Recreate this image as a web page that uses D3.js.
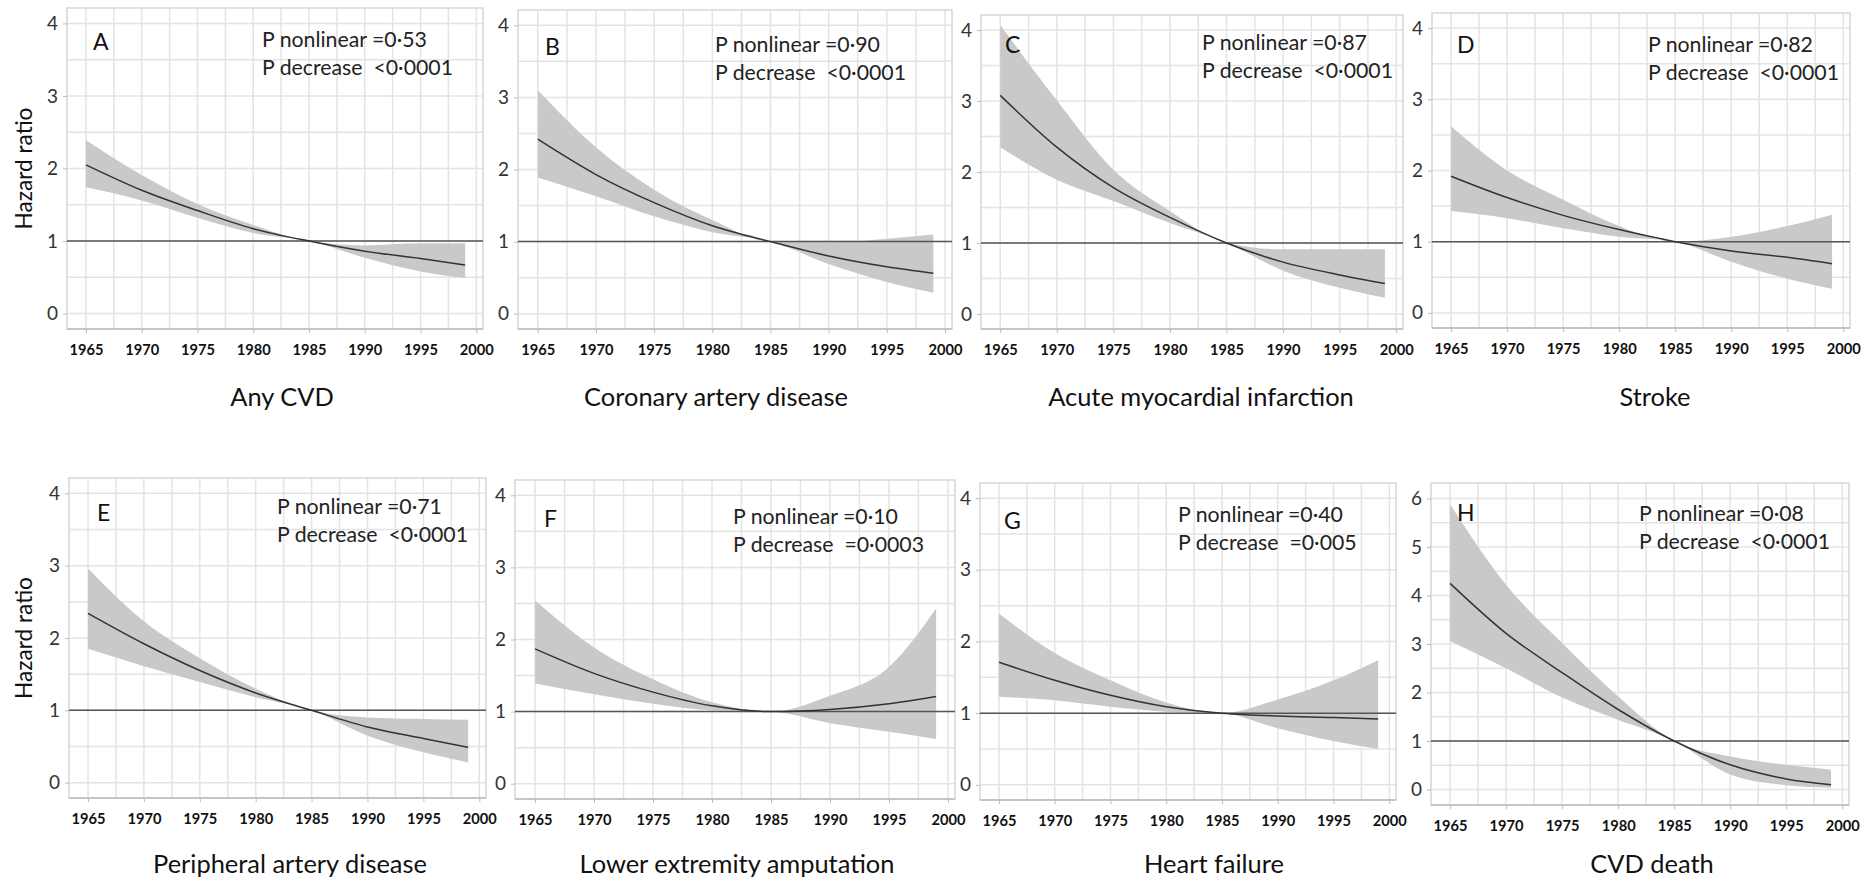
<!DOCTYPE html>
<html>
<head>
<meta charset="utf-8">
<script src="https://cdn.jsdelivr.net/npm/d3@7"></script>
<style>
  body { margin: 0; background: #fff; }
  text { font-family: Lato, "Open Sans", sans-serif; }
</style>
</head>
<body>
<svg id="chart" width="1872" height="880"></svg>
<script>
// birth year points
const years = [1965, 1970, 1975, 1980, 1985, 1990, 1995, 1999];
const xTickLabels = [1965, 1970, 1975, 1980, 1985, 1990, 1995, 2000];

const letters = ["A", "B", "C", "D", "E", "F", "G", "H"];
const titles = ["Any CVD", "Coronary artery disease", "Acute myocardial infarction", "Stroke",
  "Peripheral artery disease", "Lower extremity amputation", "Heart failure", "CVD death"];
const pNonlinear = ["=0·53", "=0·90", "=0·87", "=0·82", "=0·71", "=0·10", "=0·40", "=0·08"];
const pDecrease = ["<0·0001", "<0·0001", "<0·0001", "<0·0001", "<0·0001", "=0·0003", "=0·005", "<0·0001"];
const yMaxes = [4, 4, 4, 4, 4, 4, 4, 6];

// hazard ratio: fit, lower and upper CI
const fitA = [2.05, 1.70, 1.42, 1.17, 1.00, 0.86, 0.76, 0.67];
const lowA = [1.74, 1.56, 1.32, 1.11, 1.00, 0.77, 0.58, 0.49];
const upA  = [2.39, 1.91, 1.51, 1.22, 1.00, 0.94, 0.97, 0.97];

const fitB = [2.42, 1.93, 1.54, 1.22, 1.00, 0.80, 0.65, 0.56];
const lowB = [1.89, 1.63, 1.35, 1.13, 1.00, 0.69, 0.44, 0.29];
const upB  = [3.10, 2.31, 1.72, 1.30, 1.00, 0.99, 1.04, 1.10];

const fitC = [3.08, 2.35, 1.78, 1.36, 1.00, 0.73, 0.55, 0.43];
const lowC = [2.35, 1.89, 1.59, 1.28, 1.00, 0.61, 0.37, 0.23];
const upC  = [4.07, 3.01, 2.03, 1.45, 1.00, 0.91, 0.91, 0.91];

const fitD = [1.92, 1.62, 1.37, 1.17, 1.00, 0.87, 0.78, 0.69];
const lowD = [1.43, 1.33, 1.19, 1.07, 1.00, 0.72, 0.48, 0.34];
const upD  = [2.62, 2.00, 1.59, 1.22, 1.00, 1.07, 1.22, 1.38];

const fitE = [2.34, 1.92, 1.55, 1.24, 1.00, 0.77, 0.61, 0.49];
const lowE = [1.85, 1.61, 1.39, 1.18, 1.00, 0.65, 0.42, 0.28];
const upE  = [2.96, 2.23, 1.72, 1.30, 1.00, 0.90, 0.88, 0.87];

const fitF = [1.87, 1.53, 1.27, 1.08, 1.00, 1.03, 1.11, 1.21];
const lowF = [1.39, 1.24, 1.11, 1.02, 1.00, 0.84, 0.72, 0.62];
const upF  = [2.54, 1.89, 1.45, 1.13, 1.00, 1.22, 1.62, 2.43];

const fitG = [1.71, 1.46, 1.25, 1.09, 1.00, 0.96, 0.94, 0.92];
const lowG = [1.23, 1.18, 1.09, 1.02, 1.00, 0.79, 0.61, 0.50];
const upG  = [2.39, 1.84, 1.46, 1.15, 1.00, 1.19, 1.46, 1.74];

const fitH = [4.25, 3.22, 2.41, 1.65, 1.00, 0.51, 0.22, 0.10];
const lowH = [3.06, 2.50, 1.90, 1.44, 1.00, 0.31, 0.09, 0.04];
const upH  = [5.88, 4.22, 3.02, 1.92, 1.00, 0.68, 0.51, 0.41];

const fits = [fitA, fitB, fitC, fitD, fitE, fitF, fitG, fitH];
const lows = [lowA, lowB, lowC, lowD, lowE, lowF, lowG, lowH];
const ups  = [upA, upB, upC, upD, upE, upF, upG, upH];

// layout of each plot frame: left, top, right, bottom, title centre x, letter/P text offsets
const layout = [
  { box: [67, 8, 483, 329],    titleX: 282,  letter: [26, 42], p: [195, 39] },
  { box: [518, 10, 952, 329],  titleX: 716,  letter: [27, 45], p: [197, 42] },
  { box: [981, 15, 1403, 329], titleX: 1201, letter: [24, 38], p: [221, 35] },
  { box: [1432, 13, 1850, 328], titleX: 1655, letter: [25, 40], p: [216, 39] },
  { box: [69, 478, 486, 798],  titleX: 290,  letter: [28, 43], p: [208, 36] },
  { box: [515, 480, 955, 799], titleX: 737,  letter: [29, 47], p: [218, 44] },
  { box: [980, 483, 1396, 800], titleX: 1214, letter: [24, 46], p: [198, 39] },
  { box: [1431, 483, 1849, 805], titleX: 1652, letter: [26, 38], p: [208, 38] }
];

const svg = d3.select("#chart");

// pick a font size so that a sample string gets the width it has in the picture
function sizeFor(str, weight, width) {
  const probe = svg.append("text").style("font-size", "100px").attr("font-weight", weight).text(str);
  const len = probe.node().getComputedTextLength();
  probe.remove();
  return 100 * width / len;
}

const pSize = sizeFor("P nonlinear =0·53", "normal", 165);
const titleSize = sizeFor("Peripheral artery disease", "normal", 274);
const tickSize = sizeFor("1965", "bold", 34);
const hrSize = sizeFor("Hazard ratio", "normal", 122);

letters.forEach((letter, i) => drawPanel(i));

function drawPanel(i) {
  const [l, t, r, b] = layout[i].box;
  const yMax = yMaxes[i];
  const x = d3.scaleLinear().domain([1963.3, 2000.6]).range([l, r]);
  const y = d3.scaleLinear().domain([-0.053 * yMax, 1.053 * yMax]).range([b, t]);
  const g = svg.append("g");

  // grid
  g.selectAll(".vg").data(d3.range(1965, 2000.1, 2.5)).enter().append("line")
    .attr("x1", d => x(d)).attr("x2", d => x(d)).attr("y1", t).attr("y2", b)
    .attr("stroke", "#e4e4e4").attr("stroke-width", 1.5);
  g.selectAll(".hg").data(d3.range(0, yMax + 0.01, 0.5)).enter().append("line")
    .attr("x1", l).attr("x2", r).attr("y1", d => y(d)).attr("y2", d => y(d))
    .attr("stroke", "#e4e4e4").attr("stroke-width", 1.5);

  // frame
  g.append("rect").attr("x", l).attr("y", t).attr("width", r - l).attr("height", b - t)
    .attr("fill", "none").attr("stroke", "#d6d6d6").attr("stroke-width", 1.5);
  g.append("line").attr("x1", l).attr("x2", r).attr("y1", b).attr("y2", b)
    .attr("stroke", "#bdbdbd").attr("stroke-width", 1.5);

  const rows = years.map((yr, k) => ({ yr, fit: fits[i][k], lo: lows[i][k], hi: ups[i][k] }));

  g.append("path").datum(rows)
    .attr("fill", "#c9c9c9")
    .attr("d", d3.area().curve(d3.curveMonotoneX)
      .x(d => x(d.yr)).y0(d => y(d.lo)).y1(d => y(d.hi)));

  // reference line at HR = 1
  g.append("line").attr("x1", l).attr("x2", r).attr("y1", y(1)).attr("y2", y(1))
    .attr("stroke", "#555").attr("stroke-width", 1.5);

  g.append("path").datum(rows)
    .attr("fill", "none").attr("stroke", "#333").attr("stroke-width", 1.5)
    .attr("d", d3.line().curve(d3.curveMonotoneX).x(d => x(d.yr)).y(d => y(d.fit)));

  // axes
  const xa = g.append("g").attr("transform", `translate(0,${b})`)
    .call(d3.axisBottom(x).tickValues(xTickLabels).tickSize(4).tickPadding(12).tickFormat(d3.format("d")));
  xa.select(".domain").remove();
  xa.selectAll("line").attr("stroke", "#bdbdbd");
  xa.selectAll("text").attr("font-family", "Lato, sans-serif").attr("font-size", tickSize)
    .attr("font-weight", "bold").attr("fill", "#111");

  const ya = g.append("g").attr("transform", `translate(${l},0)`)
    .call(d3.axisLeft(y).tickValues(d3.range(0, yMax + 1)).tickFormat(d3.format("d"))
      .tickSize(4).tickPadding(5));
  ya.select(".domain").remove();
  ya.selectAll("line").attr("stroke", "#bdbdbd");
  ya.selectAll("text").attr("font-family", "Lato, sans-serif").attr("font-size", 19).attr("fill", "#333");

  // annotations
  g.append("text").attr("x", l + layout[i].letter[0]).attr("y", t + layout[i].letter[1])
    .style("font-size", "23px").attr("fill", "#111").text(letters[i]);

  const px = l + layout[i].p[0], py = t + layout[i].p[1];
  g.append("text").attr("x", px).attr("y", py).style("font-size", pSize + "px").attr("fill", "#222")
    .style("white-space", "pre").text("P nonlinear " + pNonlinear[i]);
  g.append("text").attr("x", px).attr("y", py + 28).style("font-size", pSize + "px").attr("fill", "#222")
    .style("white-space", "pre").text("P decrease  " + pDecrease[i]);

  g.append("text").attr("x", layout[i].titleX).attr("y", i < 4 ? 406 : 873)
    .attr("text-anchor", "middle").style("font-size", titleSize + "px").attr("fill", "#111")
    .text(titles[i]);

  if (i % 4 === 0) {
    g.append("text").attr("transform", `translate(32,${(t + b) / 2}) rotate(-90)`)
      .attr("text-anchor", "middle").style("font-size", hrSize + "px").attr("fill", "#111")
      .text("Hazard ratio");
  }
}
</script>
</body>
</html>
